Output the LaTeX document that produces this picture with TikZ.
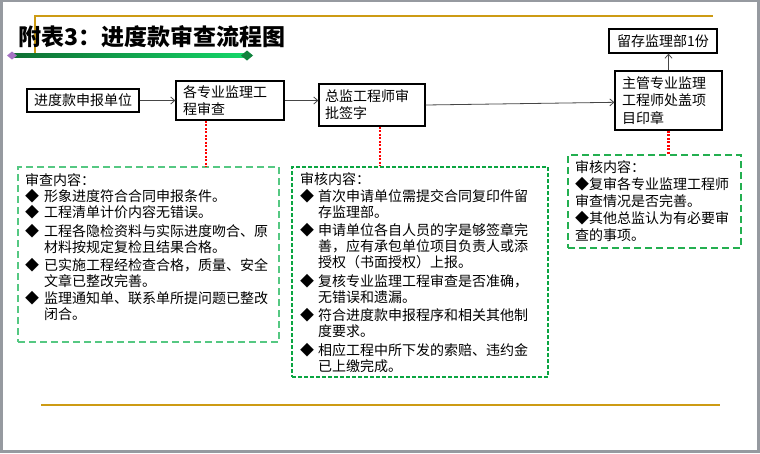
\documentclass[tikz,border=0pt]{standalone}
\usepackage{fontspec}
\setmainfont{Noto Sans CJK SC}
\usetikzlibrary{arrows.meta}
\definecolor{framegrey}{RGB}{150,154,160}
\definecolor{goldline}{RGB}{205,155,20}
\definecolor{gA}{RGB}{85,200,130}
\definecolor{gB}{RGB}{10,165,65}
\definecolor{gC}{RGB}{35,175,80}
\definecolor{arrgrey}{RGB}{70,70,70}
\definecolor{gdark}{RGB}{15,110,50}
\definecolor{glight}{RGB}{20,215,105}
\definecolor{purp}{RGB}{165,115,195}
\newcommand\bulA{\makebox[19pt][l]{◆}}
\newcommand\bulB{\makebox[18pt][l]{◆}}
\tikzset{
  flowbox/.style={draw=black, line width=1.3pt, fill=white, inner sep=0pt,
    font=\fontsize{14}{17}\selectfont},
  flowarrow/.style={draw=arrgrey, line width=0.8pt, -{Straight Barb[length=4pt,width=7pt]}},
  reddots/.style={draw=red, line width=2.5pt, dash pattern=on 2.2pt off 1.3pt},
  boxA/.style={draw=gA, line width=1.6pt, dash pattern=on 7pt off 4pt, inner sep=0pt},
  boxB/.style={draw=gB, line width=1.5pt, dash pattern=on 4pt off 2pt, inner sep=0pt},
  boxC/.style={draw=gC, line width=1.6pt, dash pattern=on 7pt off 4pt, inner sep=0pt},
  blocktext/.style={anchor=west, inner sep=0pt, align=left}
}
\begin{document}
\begin{tikzpicture}[x=1pt,y=-1pt]
% page frame
\fill[framegrey] (0,0) rectangle (760,453);
\fill[white] (3,2) rectangle (757,450);
\useasboundingbox (0,0) rectangle (760,453);
% gold lines
\draw[goldline, line width=1.2pt] (35,57) -- (35,16) -- (713,16);
\draw[goldline, line width=2.2pt] (41,405) -- (720,405);
% title
\node[anchor=west, inner sep=0pt, font=\fontsize{23}{27}\selectfont\bfseries] (title) at (18,37) {附表3：进度款审查流程图};
% gradient bar
\shade[left color=gdark, right color=glight] (12,53.5) rectangle (246,57.3);
\fill[purp] (7,55.5) -- (12,51.5) -- (17,55.5) -- (12,59.5) -- cycle;
\fill[gdark!80!glight] (241,55.5) -- (247,50.5) -- (253,55.5) -- (247,60.5) -- cycle;
% flow boxes
\node[flowbox, minimum width=112pt, minimum height=23pt] (b1) at (83,100.5) {进度款申报单位};
\node[flowbox, minimum width=108pt, minimum height=39pt, text width=94pt, align=left] (b2) at (230,100.5) {各专业监理工\\程审查};
\node[flowbox, minimum width=106pt, minimum height=42pt, text width=94pt, align=left] (b3) at (372,105) {总监工程师审\\批签字};
\node[flowbox, minimum width=107pt, minimum height=59pt, text width=93pt, align=left,
  font=\fontsize{14}{17.5}\selectfont] (b4) at (668.5,100.5) {主管专业监理\\工程师处盖项\\目印章};
\node[flowbox, minimum width=108pt, minimum height=24pt] (b5) at (663,41) {留存监理部1份};
% arrows
\draw[flowarrow] (b1) -- (b2);
\draw[flowarrow] (b2.east) -- (b2.east -| b3.west);
\draw[flowarrow] (b3.east) -- ([yshift=-1.8pt]b4.west);
\draw[flowarrow] (b4.north) -- (b4.north |- b5.south);
% dashed content boxes
\node[boxA, minimum width=261pt, minimum height=175pt] (n1) at (148.5,254.5) {};
\node[boxB, minimum width=256pt, minimum height=210pt] (n2) at (420,272) {};
\node[boxC, minimum width=173pt, minimum height=93pt] (n3) at (654.5,201.5) {};
% red dotted links
\coordinate (d1) at (206,0);
\coordinate (d2) at (380,0);
\draw[reddots] (d1 |- b2.south) -- (d1 |- n1.north);
\draw[reddots] (d2 |- b3.south) -- (d2 |- n2.north);
\draw[reddots] (b4.south) -- (b4.south |- n3.north);
% texts
\node[blocktext, font=\fontsize{14}{16.3}\selectfont] (t1) at (25,247) {审查内容：\\
\bulA 形象进度符合合同申报条件。\\
\bulA 工程清单计价内容无错误。\\[2pt]
\bulA 工程各隐检资料与实际进度吻合、原\\
\hspace*{19pt}材料按规定复检且结果合格。\\[2pt]
\bulA 已实施工程经检查合格，质量、安全\\
\hspace*{19pt}文章已整改完善。\\
\bulA 监理通知单、联系单所提问题已整改\\
\hspace*{19pt}闭合。};
\node[blocktext, font=\fontsize{14}{16}\selectfont] (t2) at (300,272.5) {审核内容：\\[0.7pt]
\bulB 首次申请单位需提交合同复印件留\\
\hspace*{18pt}存监理部。\\[2.5pt]
\bulB 申请单位各自人员的字是够签章完\\
\hspace*{18pt}善，应有承包单位项目负责人或添\\
\hspace*{18pt}授权（书面授权）上报。\\[2.5pt]
\bulB 复核专业监理工程审查是否准确，\\
\hspace*{18pt}无错误和遗漏。\\[2.5pt]
\bulB 符合进度款申报程序和相关其他制\\
\hspace*{18pt}度要求。\\[2.5pt]
\bulB 相应工程中所下发的索赔、违约金\\
\hspace*{18pt}已上缴完成。};
\node[blocktext, font=\fontsize{14}{17}\selectfont] (t3) at (575,201) {审核内容：\\
◆复审各专业监理工程师\\
审查情况是否完善。\\
◆其他总监认为有必要审\\
查的事项。};
\end{tikzpicture}
\end{document}
